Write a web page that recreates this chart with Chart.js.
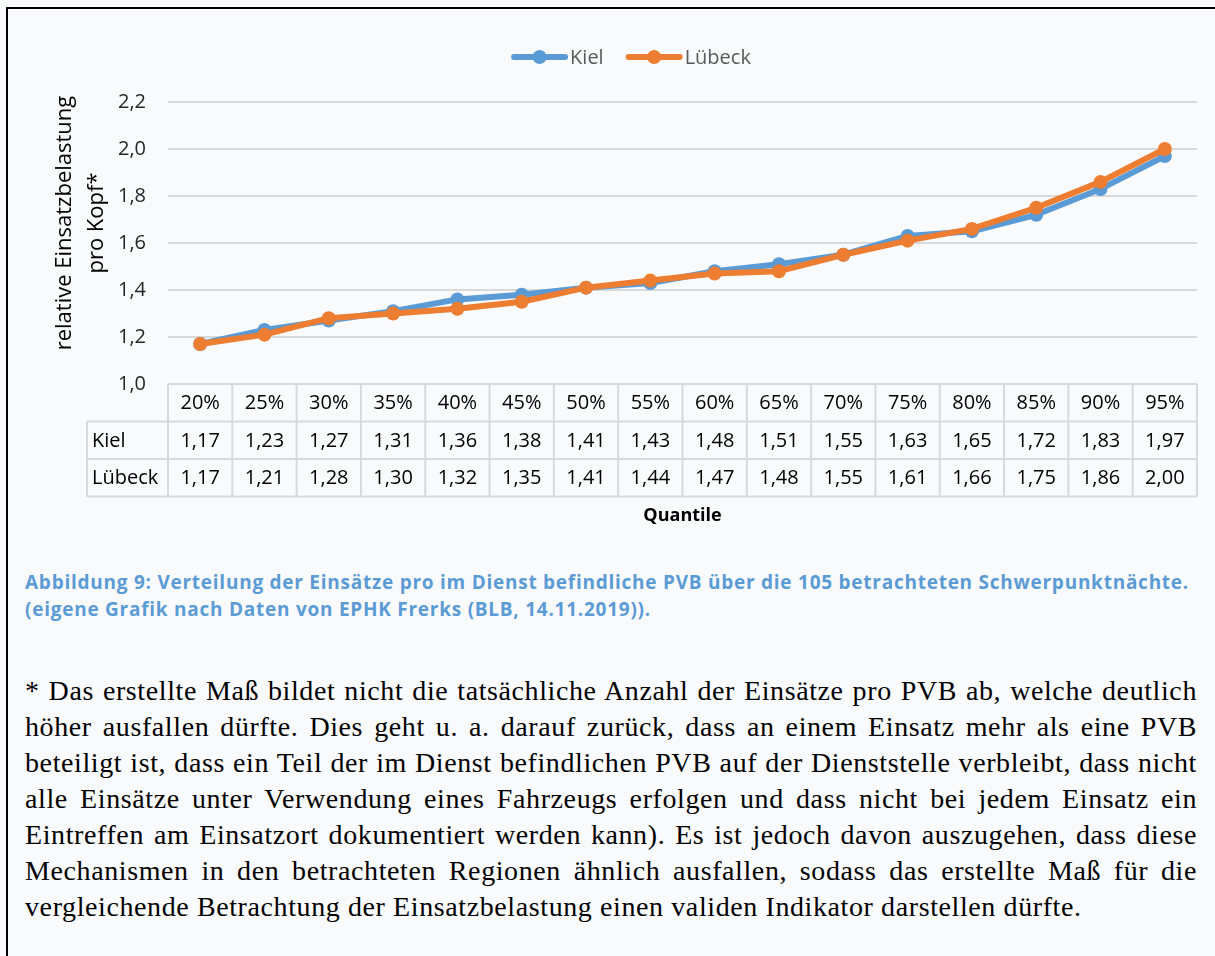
<!DOCTYPE html>
<html lang="de">
<head>
<meta charset="utf-8">
<title>Einsatzbelastung Kiel / Lübeck</title>
<script src="https://cdn.jsdelivr.net/npm/chart.js@4.4.1/dist/chart.umd.min.js"></script>
<style>
html,body{margin:0;padding:0;background:#f9fafc;}
#page{position:relative;width:1215px;height:956px;overflow:hidden;}
#frame{position:absolute;left:6px;top:7px;right:-2px;bottom:-2px;border-top:2px solid #000;border-left:2px solid #000;}
#chart{position:absolute;left:0;top:0;}
#cap{position:absolute;left:25px;top:569px;width:1180px;font:bold 19px "Open Sans",sans-serif;letter-spacing:0.75px;color:#5b9bd5;line-height:27px;white-space:nowrap;}
#note{position:absolute;left:25px;top:673px;width:1172px;font:28px "Liberation Serif","Times New Roman",serif;letter-spacing:0.6px;word-spacing:-4px;color:#000;}
#note div{height:36px;line-height:36px;text-align:justify;text-align-last:justify;white-space:nowrap;}
#note div.last{text-align-last:left;word-spacing:0;}
</style>
</head>
<body>
<div id="page">
  <div id="frame"></div>
  <canvas id="chart" width="1215" height="545"></canvas>
  <div id="cap">
    <div>Abbildung 9: Verteilung der Einsätze pro im Dienst befindliche PVB über die 105 betrachteten Schwerpunktnächte.</div>
    <div>(eigene Grafik nach Daten von EPHK Frerks (BLB, 14.11.2019)).</div>
  </div>
  <div id="note">
    <div>* Das erstellte Maß bildet nicht die tatsächliche Anzahl der Einsätze pro PVB ab, welche deutlich</div>
    <div>höher ausfallen dürfte. Dies geht u. a. darauf zurück, dass an einem Einsatz mehr als eine PVB</div>
    <div>beteiligt ist, dass ein Teil der im Dienst befindlichen PVB auf der Dienststelle verbleibt, dass nicht</div>
    <div>alle Einsätze unter Verwendung eines Fahrzeugs erfolgen und dass nicht bei jedem Einsatz ein</div>
    <div>Eintreffen am Einsatzort dokumentiert werden kann). Es ist jedoch davon auszugehen, dass diese</div>
    <div>Mechanismen in den betrachteten Regionen ähnlich ausfallen, sodass das erstellte Maß für die</div>
    <div class="last">vergleichende Betrachtung der Einsatzbelastung einen validen Indikator darstellen dürfte.</div>
  </div>
</div>
<script>
const quantiles=['20%','25%','30%','35%','40%','45%','50%','55%','60%','65%','70%','75%','80%','85%','90%','95%'];
const kiel=[1.17,1.23,1.27,1.31,1.36,1.38,1.41,1.43,1.48,1.51,1.55,1.63,1.65,1.72,1.83,1.97];
const luebeck=[1.17,1.21,1.28,1.30,1.32,1.35,1.41,1.44,1.47,1.48,1.55,1.61,1.66,1.75,1.86,2.00];
const seriesNames=['Kiel','Lübeck'];
const colors=['#5b9bd5','#ed7d31'];
const yTitle=['relative Einsatzbelastung','pro Kopf*'];
const xTitle='Quantile';

const FONT='"Open Sans", sans-serif';
const de=v=>v.toFixed(2).replace('.',',');

// legend, axis title and data table below the plot
const extras={
  id:'extras',
  afterDraw(chart){
    const c=chart.ctx, a=chart.chartArea, x=chart.scales.x;
    c.save();
    // legend
    c.font='20px '+FONT; c.textBaseline='middle';
    const sw=57, gap=2, sep=22, ly=57;
    const w=seriesNames.reduce((s,n)=>s+sw+gap+c.measureText(n).width,0)+sep*(seriesNames.length-1);
    let lx=631-w/2;
    seriesNames.forEach((n,i)=>{
      c.strokeStyle=colors[i]; c.fillStyle=colors[i]; c.lineWidth=6; c.lineCap='round';
      c.beginPath(); c.moveTo(lx+3,ly); c.lineTo(lx+sw-3,ly); c.stroke();
      c.beginPath(); c.arc(lx+sw/2,ly,7,0,Math.PI*2); c.fill();
      c.fillStyle='#595959'; c.textAlign='left'; c.fillText(n,lx+sw+gap,ly+1);
      lx+=sw+gap+c.measureText(n).width+sep;
    });
    // y title
    c.save(); c.translate(81,223); c.rotate(-Math.PI/2);
    c.font='22px '+FONT; c.fillStyle='#000'; c.textAlign='center';
    c.fillText(yTitle[0],0,-16); c.fillText(yTitle[1],0,16);
    c.restore();
    // table
    const half=(x.getPixelForValue(1)-x.getPixelForValue(0))/2;
    const rowH=37.5, top=a.bottom, labL=87;
    const rows=[[null,quantiles],[seriesNames[0],kiel.map(de)],[seriesNames[1],luebeck.map(de)]];
    c.strokeStyle='#d9d9d9'; c.lineWidth=2; c.lineCap='butt';
    c.beginPath();
    c.moveTo(a.left,top); c.lineTo(a.right,top);
    for(let r=1;r<=3;r++){c.moveTo(labL,top+r*rowH); c.lineTo(a.right,top+r*rowH);}
    c.moveTo(labL,top+rowH); c.lineTo(labL,top+3*rowH);
    for(let i=0;i<=quantiles.length;i++){
      const bx=i<quantiles.length?x.getPixelForValue(i)-half:x.getPixelForValue(i-1)+half;
      c.moveTo(bx,top); c.lineTo(bx,top+3*rowH);
    }
    c.stroke();
    c.font='20px '+FONT; c.fillStyle='#000';
    rows.forEach((row,r)=>{
      const cy=top+r*rowH+rowH/2+1;
      if(row[0]){c.textAlign='left'; c.fillText(row[0],labL+5,cy);}
      c.textAlign='center';
      row[1].forEach((t,i)=>c.fillText(t,x.getPixelForValue(i),cy));
    });
    c.font='bold 18px '+FONT; c.textAlign='center';
    c.fillText(xTitle,(a.left+a.right)/2,top+3*rowH+19);
    c.restore();
  }
};

new Chart(document.getElementById('chart').getContext('2d'),{
  type:'line',
  data:{labels:quantiles,datasets:[
    {label:seriesNames[0],data:kiel,borderColor:colors[0],backgroundColor:colors[0],order:2},
    {label:seriesNames[1],data:luebeck,borderColor:colors[1],backgroundColor:colors[1],order:1}
  ]},
  options:{
    responsive:false,animation:false,devicePixelRatio:1,
    layout:{padding:{left:0,right:18,top:102,bottom:161}},
    elements:{line:{borderWidth:6,tension:0,borderCapStyle:'round',borderJoinStyle:'round'},point:{radius:7,borderWidth:0,hoverRadius:7}},
    plugins:{legend:{display:false},tooltip:{enabled:false}},
    scales:{
      x:{display:false,offset:true},
      y:{min:1,max:2.2,
        afterFit(s){s.width=168;},
        border:{display:false},
        grid:{color:'#d9d9d9',lineWidth:2,drawTicks:false},
        ticks:{stepSize:0.2,padding:22,color:'#262626',font:{family:FONT,size:20},callback:v=>v.toFixed(1).replace('.',',')}
      }
    }
  },
  plugins:[extras]
});
</script>
</body>
</html>
